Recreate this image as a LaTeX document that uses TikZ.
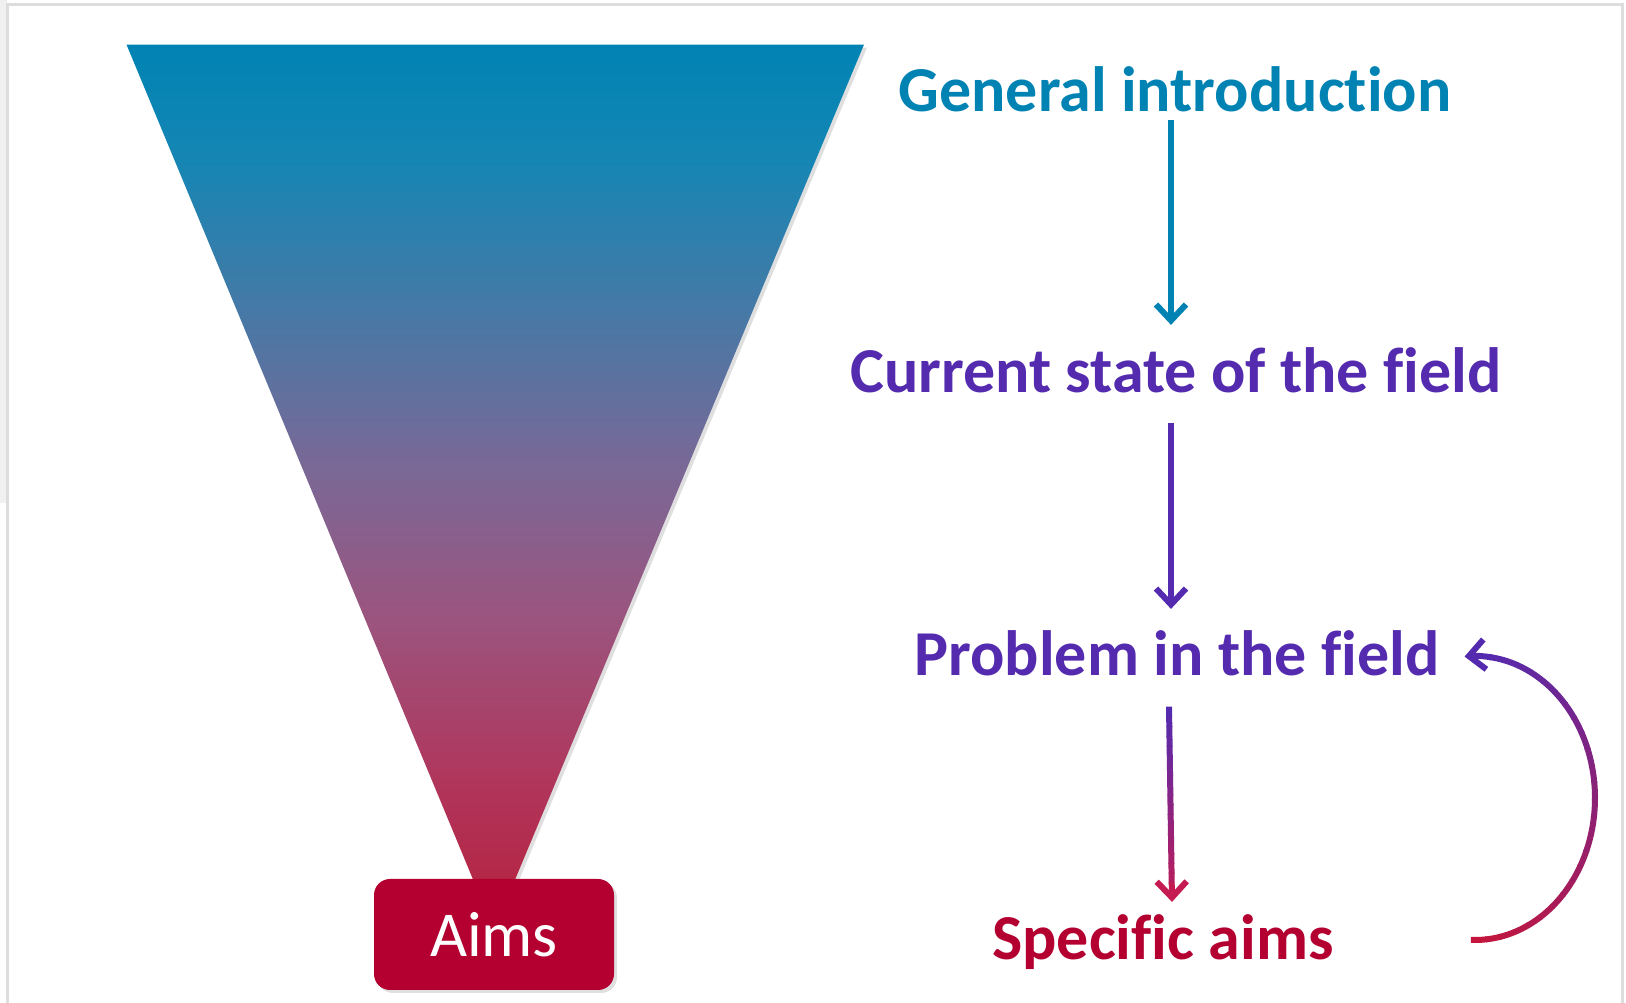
\documentclass[tikz,border=0pt]{standalone}
\usepackage{fontspec}
\setmainfont{Carlito}[Ligatures={NoCommon,NoContextual}]
\usetikzlibrary{positioning,arrows.meta,calc,shadows}
\definecolor{teal1}{RGB}{0,131,179}
\definecolor{purp}{RGB}{84,43,175}
\definecolor{crim}{RGB}{180,0,48}
\definecolor{rose}{RGB}{196,22,60}
\definecolor{rosepink}{RGB}{196,28,82}
\definecolor{framegray}{RGB}{221,221,221}
\definecolor{fa}{RGB}{20,134,180}
\definecolor{fb}{RGB}{70,121,166}
\definecolor{fc}{RGB}{122,104,150}
\definecolor{fd}{RGB}{155,84,126}
\definecolor{fe}{RGB}{176,54,92}
\definecolor{ff}{RGB}{182,32,60}
\pgfdeclareverticalshading{funnel}{100bp}{color(0bp)=(ff); color(25bp)=(ff); color(33.5bp)=(fe); color(42.5bp)=(fd); color(51bp)=(fc); color(60bp)=(fb); color(68.75bp)=(fa); color(75bp)=(teal1); color(100bp)=(teal1)}

\begin{document}
\begin{tikzpicture}[x=1pt,y=1pt,
		stage/.style={font=\bfseries\fontsize{64}{72}\selectfont, inner sep=0pt, anchor=base},
		flow/.style={line width=6pt, -{Straight Barb[length=16pt,width=30pt]}},
		soft/.style={drop shadow={opacity=0.25, shadow xshift=3pt, shadow yshift=-3pt}}]
				\useasboundingbox (0,0) rectangle (1626,1003);
				\fill[gray!12] (0,500) rectangle (7,1003);
				\draw[framegray, line width=3pt] (7,0) -- (7,998) -- (1622,998) -- (1622,0);
				\shade[shading=funnel, soft] (126.5,958.4) -- (864,958.4) -- (494,73) -- cycle;
				\node[fill=crim, rounded corners=16pt, minimum width=240pt, minimum height=111pt, text=white, font=\fontsize{64}{72}\selectfont, soft] (aims) at (494,68.5) {Aims};
				\node[stage, text=teal1] (gen) at (1175,891) {General introduction};
				\node[stage, text=purp] (cur) at (1176,610) {Current state of the field};
				\node[stage, text=purp] (prob) at (1177,327) {Problem in the field};
				\node[stage, text=crim] (spec) at (1163,43) {Specific aims};
				\draw[flow, teal1, shorten <=7pt, shorten >=23pt] ([xshift=-4pt]gen.south) -- ([xshift=-5pt]cur.north);
				\draw[flow, purp, shorten <=29pt, shorten >=22pt] ([xshift=-5pt]cur.south) -- ([xshift=-6pt]prob.north);
				\coordinate (a3) at ($(prob.south)+(-8,-30)$);
				\coordinate (b3) at ($(spec.north)+(9,13)$);
				\foreach \i [evaluate=\i as \p using int(100-5*\i)] in {0,...,17}
					\draw[line width=6pt, purp!\p!rosepink] ($(a3)!{\i/20}!(b3)$) -- ($(a3)!{(\i+1.1)/20}!(b3)$);
				\draw[flow, rosepink] ($(a3)!0.9!(b3)$) -- (b3);
				\coordinate (loopc) at (1475,205);
				\foreach \i [evaluate=\i as \p using int(4*\i)] in {0,...,24}
					\draw[line width=6pt, purp!\p!rose] ($(loopc)+({120*cos(-92+7*\i)},{142*sin(-92+7*\i)})$) arc[start angle=-92+7*\i, end angle=-84.5+7*\i, x radius=120pt, y radius=142pt];
				\draw[flow, purp] ($(loopc)+({120*cos(82)},{142*sin(82)})$) arc[start angle=82, end angle=95, x radius=120pt, y radius=142pt];
			\end{tikzpicture}
\end{document}
